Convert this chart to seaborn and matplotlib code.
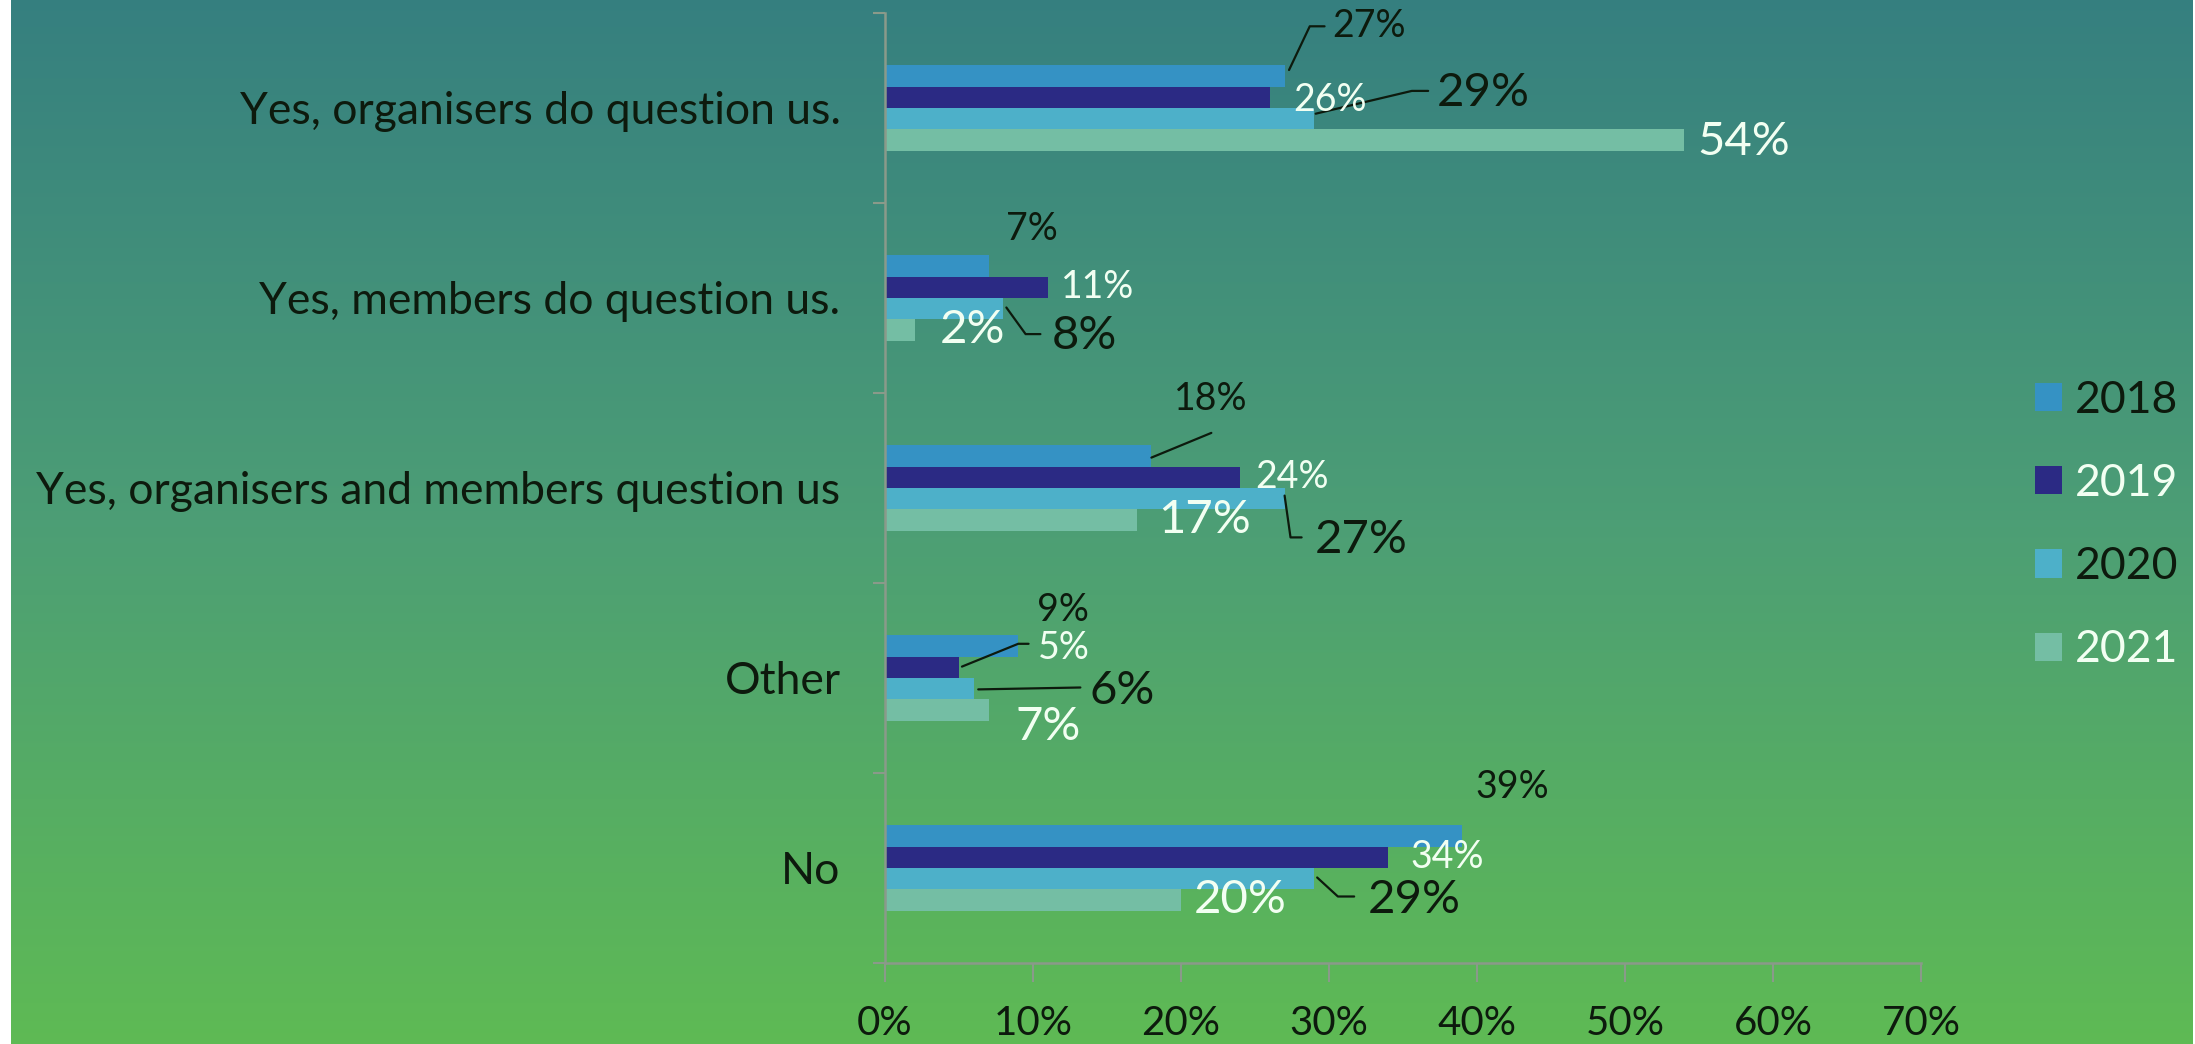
import numpy as np
import pandas as pd
import matplotlib
matplotlib.use("Agg")
import matplotlib.pyplot as plt
import seaborn as sns
from matplotlib.ticker import FixedLocator

# data
categories = ["Yes, organisers do question us.",
              "Yes, members do question us.",
              "Yes, organisers and members question us",
              "Other",
              "No"]
years = ["2018", "2019", "2020", "2021"]
v2018 = [27, 7, 18, 9, 39]
v2019 = [26, 11, 24, 5, 34]
v2020 = [29, 8, 27, 6, 29]
v2021 = [54, 2, 17, 7, 20]

colors = ["#3592c4", "#2b2a84", "#4db0c9", "#74bea4"]
label_colors = ["#0d1a0d", "#f2fff2", "#0d1a0d", "#f2fff2"]
label_sizes = [27, 27, 34, 34]

# label offsets (dx in %, dy in category units) from each bar end
label_offsets = [
    [(3.2, -0.265), (1.2, -0.195), (1.5, -0.30), (1.3, -0.19), (0.9, -0.257)],
    [(1.6, 0.015), (0.9, 0.0), (1.05, 0.0), (5.3, -0.10), (1.5, 0.0)],
    [(8.3, -0.135), (3.3, 0.145), (2.05, 0.215), (7.85, 0.01), (3.6, 0.11)],
    [(0.9, 0.01), (1.7, 0.0), (1.45, 0.0), (1.8, 0.09), (0.85, 0.0)],
]
# leader lines (data coords)
leaders = [
    [(27.3, -0.20), (28.7, -0.43), (29.7, -0.43)],
    [(29.1, 0.03), (35.6, -0.09), (36.7, -0.09)],
    [(8.2, 1.05), (9.5, 1.19), (10.5, 1.19)],
    [(18.0, 1.84), (22.05, 1.71)],
    [(27.0, 2.04), (27.4, 2.26), (28.15, 2.26)],
    [(5.2, 2.94), (9.0, 2.82), (9.7, 2.82)],
    [(6.3, 3.06), (13.2, 3.05)],
    [(29.2, 4.05), (30.6, 4.15), (31.7, 4.15)],
]

df = pd.DataFrame({
    "category": categories * 4,
    "year": sum([[y] * len(categories) for y in years], []),
    "value": v2018 + v2019 + v2020 + v2021,
})

sns.set_theme(style="ticks")
plt.rcParams["font.family"] = ["Lato", "DejaVu Sans"]

fig = plt.figure(figsize=(21.95, 10.44), dpi=100, facecolor="white")

# gradient background
bg = fig.add_axes([11 / 2195, 0, 2182 / 2195, 1], zorder=0)
top = np.array([0.21, 0.50, 0.50])
mid = np.array([0.30, 0.62, 0.46])
bot = np.array([0.37, 0.73, 0.33])
t = np.linspace(0, 1, 400)[:, None]
grad = np.where(t < 0.5, top + (mid - top) * (t / 0.5), mid + (bot - mid) * ((t - 0.5) / 0.5))
bg.imshow(grad[:, None, :], aspect="auto", extent=[0, 1, 0, 1])
bg.axis("off")

ax = fig.add_axes([885 / 2195, 81 / 1044, 1036 / 2195, 950 / 1044], zorder=1)
ax.patch.set_alpha(0)

sns.barplot(data=df, x="value", y="category", hue="year", orient="h",
            palette=colors, width=0.45, saturation=1, ax=ax, legend=True,
            linewidth=0, edgecolor="none")

ax.set_xlim(0, 70)
ax.set_ylim(4.5, -0.5)
ax.set_xlabel("")
ax.set_ylabel("")
ax.set_xticks(range(0, 71, 10))
ax.set_xticklabels([f"{v}%" for v in range(0, 71, 10)], fontsize=29, color="#0d1a0d")
ax.tick_params(axis="x", length=14, width=1.5, color="#8a9a8a", pad=16)
ax.tick_params(axis="y", which="major", length=0, pad=32, labelsize=32, labelcolor="#0d1a0d")
ax.yaxis.set_minor_locator(FixedLocator(np.arange(-0.5, 4.6, 1)))
ax.tick_params(axis="y", which="minor", length=9, width=1.5, color="#8a9a8a")
for s in ["top", "right"]:
    ax.spines[s].set_visible(False)
for s in ["left", "bottom"]:
    ax.spines[s].set_color("#8a9a8a")
    ax.spines[s].set_linewidth(1.8)

vals = [v2018, v2019, v2020, v2021]
for j, cont in enumerate(ax.containers):
    for i, bar in enumerate(cont):
        yc = bar.get_y() + bar.get_height() / 2
        dx, dy = label_offsets[j][i]
        ax.text(bar.get_width() + dx, yc + dy, f"{vals[j][i]}%", ha="left", va="center",
                fontsize=label_sizes[j], color=label_colors[j], clip_on=False)

for pts in leaders:
    xs, ys = zip(*pts)
    ax.plot(xs, ys, color="#0d1a0d", lw=1.6, clip_on=False)

handles, labels = ax.get_legend_handles_labels()
ax.get_legend().remove()
leg = fig.legend(handles, labels, loc="center left", bbox_to_anchor=(0.909, 0.497),
                 frameon=False, fontsize=32, handlelength=0.6, handleheight=0.6,
                 handletextpad=0.3, labelspacing=0.95)
for txt, c in zip(leg.get_texts(), label_colors):
    txt.set_color(c)

fig.savefig("out.png", dpi=100, facecolor="white")
